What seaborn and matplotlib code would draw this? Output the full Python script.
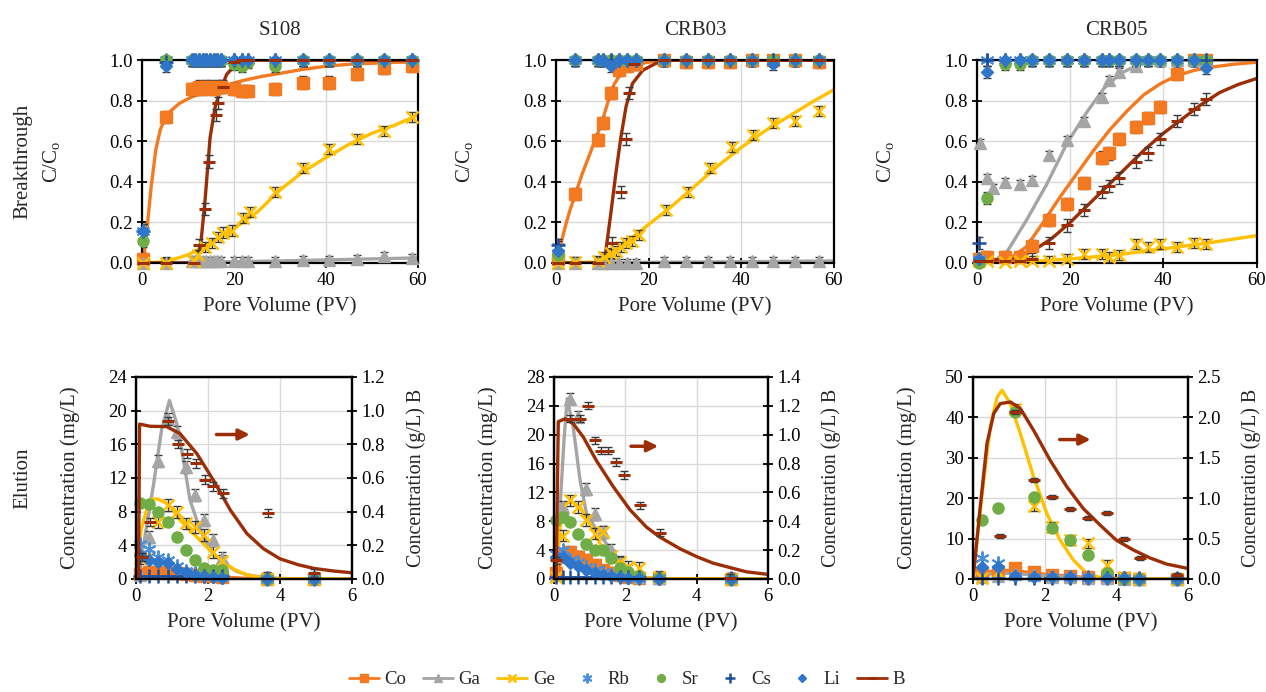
"""
Breakthrough and elution curves for S108, CRB03 and CRB05
"""

import numpy as np
import matplotlib
matplotlib.use('Agg')
import matplotlib.pyplot as plt
import seaborn as sns
from matplotlib.lines import Line2D
from matplotlib.ticker import FormatStrFormatter

# ---------------- breakthrough data (C/Co vs PV) ----------------
S108_BT_PV = [0.3, 5.2, 10.8, 11.6, 12.4, 13.2, 14.0, 14.8, 15.6, 16.4, 17.2, 19.9, 21.7, 23.1, 28.8, 34.9, 40.7, 46.7, 52.5, 58.6]
S108_BT_CO = [0.02, 0.72, 0.86, 0.86, 0.87, 0.86, 0.87, 0.87, 0.86, 0.87, 0.87, 0.86, 0.85, 0.85, 0.86, 0.89, 0.89, 0.93, 0.96, 0.97]
S108_BT_GA = [0.0, 0.0, 0.01, 0.01, 0.01, 0.01, 0.01, 0.01, 0.01, 0.01, 0.01, 0.01, 0.01, 0.01, 0.01, 0.015, 0.015, 0.02, 0.035, 0.025]
S108_BT_RB = [0.16, 1.0, 1.0, 1.0, 1.0, 1.0, 1.0, 1.0, 1.0, 1.0, 1.0, 1.0, 1.0, 1.0, 1.0, 1.0, 1.0, 1.0, 1.0, 1.0]
S108_BT_SR = [0.11, 1.0, 1.0, 1.0, 1.0, 1.0, 1.0, 1.0, 1.0, 1.0, 1.0, 0.98, 0.97, 0.99, 0.97, 1.0, 1.0, 1.0, 1.0, 1.0]
S108_BT_CS = [0.16, 0.99, 1.0, 1.0, 1.0, 1.0, 1.0, 1.0, 1.0, 1.0, 1.0, 1.0, 1.0, 1.0, 1.0, 1.0, 1.0, 1.0, 1.0, 1.0]
S108_BT_LI = [0.16, 0.97, 1.0, 1.0, 1.0, 1.0, 1.0, 1.0, 1.0, 1.0, 1.0, 1.0, 1.0, 1.0, 1.0, 1.0, 1.0, 1.0, 1.0, 1.0]
S108_BT_GE_PV = [0.3, 5.2, 11.3, 12.2, 13.7, 15.1, 16.6, 17.7, 19.5, 22.0, 23.5, 28.8, 34.9, 40.7, 46.7, 52.5, 58.6]
S108_BT_GE = [0.0, 0.0, 0.01, 0.04, 0.08, 0.10, 0.13, 0.15, 0.16, 0.22, 0.25, 0.35, 0.47, 0.56, 0.61, 0.65, 0.72]
S108_BT_B_PV = [0.3, 5.2, 11.3, 12.4, 13.7, 14.6, 16.1, 16.6, 17.5, 19.9, 21.7, 23.1, 28.8, 34.9, 40.7, 46.7, 52.5, 58.6]
S108_BT_B = [0.0, 0.0, 0.0, 0.09, 0.265, 0.5, 0.73, 0.79, 0.87, 0.99, 1.0, 1.0, 1.0, 1.0, 1.0, 1.0, 1.0, 1.0]
# model fits
S108_BT_CO_FIT_PV = [0, 0.5, 1, 2, 3, 4, 5, 6, 8, 10, 12, 15, 18, 22, 26, 30, 35, 40, 45, 50, 55, 60]
S108_BT_CO_FIT = [0, 0.05, 0.15, 0.38, 0.56, 0.66, 0.71, 0.745, 0.785, 0.81, 0.83, 0.855, 0.875, 0.9, 0.92, 0.935, 0.955, 0.97, 0.98, 0.985, 0.99, 0.99]
S108_BT_GA_FIT_PV = [0, 10, 20, 30, 40, 50, 60]
S108_BT_GA_FIT = [0, 0.003, 0.006, 0.01, 0.015, 0.02, 0.025]
S108_BT_GE_FIT_PV = [0, 5, 10, 15, 20, 25, 30, 35, 40, 45, 50, 55, 60]
S108_BT_GE_FIT = [0, 0.005, 0.04, 0.1, 0.17, 0.25, 0.36, 0.45, 0.52, 0.585, 0.64, 0.68, 0.73]
S108_BT_B_FIT_PV = [0, 11.5, 12.2, 12.8, 13.7, 14.8, 15.9, 17.0, 18.4, 20.2, 22.8, 30, 40, 50, 60]
S108_BT_B_FIT = [0, 0, 0.03, 0.1, 0.31, 0.62, 0.77, 0.85, 0.93, 0.975, 1.0, 1.0, 1.0, 1.0, 1.0]

CRB03_BT_PV = [0.4, 4.2, 9.1, 10.1, 11.8, 13.6, 15.4, 17.2, 23.4, 28.1, 32.8, 37.5, 42.2, 46.9, 51.6, 56.8]
CRB03_BT_CO = [0.02, 0.34, 0.605, 0.69, 0.84, 0.95, 0.97, 0.98, 1.0, 0.99, 0.99, 0.99, 1.0, 1.0, 1.0, 0.99]
CRB03_BT_GA = [0.0, 0.0, 0.0, 0.0, 0.0, 0.0, 0.0, 0.0, 0.01, 0.01, 0.01, 0.01, 0.01, 0.01, 0.01, 0.01]
CRB03_BT_RB = [0.08, 1.0, 1.0, 1.0, 1.0, 1.0, 1.0, 1.0, 1.0, 1.0, 1.0, 1.0, 1.0, 1.0, 1.0, 1.0]
CRB03_BT_SR = [0.04, 1.0, 1.0, 1.0, 1.0, 1.0, 1.0, 1.0, 1.0, 1.0, 1.0, 1.0, 1.0, 1.0, 1.0, 1.0]
CRB03_BT_CS = [0.09, 1.0, 1.0, 1.0, 1.0, 1.0, 1.0, 1.0, 1.0, 1.0, 1.0, 1.0, 1.0, 1.0, 1.0, 1.0]
CRB03_BT_LI = [0.06, 1.0, 1.0, 1.0, 0.97, 1.0, 1.0, 1.0, 1.0, 1.0, 1.0, 1.0, 1.0, 0.98, 1.0, 1.0]
CRB03_BT_GE_PV = [0.4, 4.2, 9.1, 10.4, 11.8, 12.9, 14.0, 15.1, 16.5, 18.0, 23.8, 28.5, 33.2, 37.9, 42.5, 46.9, 51.6, 56.8]
CRB03_BT_GE = [0.0, 0.005, 0.01, 0.03, 0.05, 0.06, 0.08, 0.10, 0.11, 0.14, 0.26, 0.35, 0.47, 0.57, 0.63, 0.69, 0.70, 0.75]
CRB03_BT_B_PV = [0.4, 4.2, 9.1, 12.0, 14.0, 15.2, 15.8, 16.9, 23.4, 28.1, 32.8, 37.5, 42.2, 46.9, 51.6, 56.8]
CRB03_BT_B = [0.0, 0.0, 0.0, 0.1, 0.35, 0.61, 0.84, 0.98, 1.0, 1.0, 1.0, 1.0, 1.0, 1.0, 1.0, 1.0]
CRB03_BT_CO_FIT_PV = [0, 1, 2, 3, 4.2, 5.5, 7, 8.5, 10, 11.4, 12.5, 13.6, 15, 16.5, 18.7, 22.3, 30, 40, 50, 60]
CRB03_BT_CO_FIT = [0, 0.09, 0.18, 0.26, 0.34, 0.43, 0.52, 0.61, 0.7, 0.81, 0.88, 0.92, 0.95, 0.97, 0.985, 1.0, 1.0, 1.0, 1.0, 1.0]
CRB03_BT_GA_FIT_PV = [0, 20, 40, 60]
CRB03_BT_GA_FIT = [0, 0.003, 0.006, 0.01]
CRB03_BT_GE_FIT_PV = [0, 10, 12, 15, 20, 25, 30, 35, 40, 45, 50, 55, 60]
CRB03_BT_GE_FIT = [0, 0.005, 0.04, 0.1, 0.19, 0.28, 0.38, 0.48, 0.57, 0.65, 0.72, 0.79, 0.855]
CRB03_BT_B_FIT_PV = [0, 10, 10.7, 11.8, 12.9, 14.0, 15.1, 16.5, 18.7, 21.6, 25.2, 30, 40, 50, 60]
CRB03_BT_B_FIT = [0, 0, 0.05, 0.24, 0.44, 0.62, 0.77, 0.885, 0.95, 0.985, 1.0, 1.0, 1.0, 1.0, 1.0]

CRB05_BT_PV = [0.5, 2.2, 6.0, 9.2, 11.9, 15.5, 19.3, 23.0, 26.8, 28.3, 30.4, 34.0, 36.7, 39.3, 42.9, 46.6, 49.1]
CRB05_BT_CO = [0.02, 0.03, 0.03, 0.03, 0.085, 0.21, 0.29, 0.395, 0.52, 0.54, 0.61, 0.67, 0.715, 0.77, 0.93, 1.0, 1.0]
CRB05_BT_RB = [0.02, 1.0, 1.0, 1.0, 1.0, 1.0, 1.0, 1.0, 1.0, 1.0, 1.0, 1.0, 1.0, 1.0, 1.0, 1.0, 1.0]
CRB05_BT_SR = [0.0, 0.32, 0.98, 0.98, 1.0, 1.0, 1.0, 1.0, 1.0, 1.0, 1.0, 1.0, 1.0, 1.0, 1.0, 1.0, 1.0]
CRB05_BT_CS = [0.10, 1.0, 1.0, 1.0, 1.0, 1.0, 1.0, 1.0, 1.0, 1.0, 1.0, 1.0, 1.0, 1.0, 1.0, 1.0, 1.0]
CRB05_BT_LI = [0.02, 0.94, 1.0, 1.0, 1.0, 1.0, 1.0, 1.0, 1.0, 1.0, 1.0, 1.0, 1.0, 1.0, 1.0, 1.0, 0.96]
CRB05_BT_GE = [0.01, 0.01, 0.005, 0.01, 0.01, 0.01, 0.02, 0.045, 0.045, 0.03, 0.04, 0.095, 0.08, 0.095, 0.08, 0.10, 0.095]
CRB05_BT_B = [0.01, 0.01, 0.01, 0.01, 0.02, 0.10, 0.185, 0.26, 0.35, 0.38, 0.42, 0.50, 0.54, 0.61, 0.70, 0.76, 0.81]
CRB05_BT_GA_PV = [0.7, 2.2, 3.5, 6.0, 9.2, 11.9, 15.5, 19.3, 23.0, 26.8, 28.3, 30.4, 34.0, 39.3, 42.9, 46.6, 49.1]
CRB05_BT_GA = [0.59, 0.42, 0.37, 0.40, 0.39, 0.41, 0.53, 0.605, 0.70, 0.82, 0.90, 0.94, 0.97, 1.0, 1.0, 1.0, 1.0]
CRB05_BT_CO_FIT_PV = [0, 7, 10.6, 14.2, 17.8, 21.4, 25, 28.6, 32.2, 35.8, 39.4, 43, 46.6, 50, 55, 60]
CRB05_BT_CO_FIT = [0.01, 0.02, 0.08, 0.2, 0.325, 0.44, 0.555, 0.66, 0.75, 0.83, 0.885, 0.925, 0.95, 0.965, 0.98, 0.99]
CRB05_BT_GA_FIT_PV = [0, 3.5, 6.3, 10.6, 15, 19.3, 23.6, 27.2, 30.8, 34.4, 39.4, 45, 50, 60]
CRB05_BT_GA_FIT = [0.01, 0.01, 0.05, 0.21, 0.39, 0.59, 0.745, 0.86, 0.935, 0.975, 1.0, 1.0, 1.0, 1.0]
CRB05_BT_GE_FIT_PV = [0, 10, 20, 30, 40, 50, 60]
CRB05_BT_GE_FIT = [0, 0.005, 0.02, 0.04, 0.07, 0.1, 0.135]
CRB05_BT_B_FIT_PV = [0, 8, 12, 16, 20, 24, 28, 32, 36, 40, 44, 48, 52, 56, 60]
CRB05_BT_B_FIT = [0.01, 0.02, 0.06, 0.12, 0.2, 0.29, 0.38, 0.47, 0.56, 0.64, 0.71, 0.78, 0.84, 0.88, 0.91]

# ---------------- elution data (mg/L, B in g/L) ----------------
S108_EL_PV = [0.1, 0.35, 0.62, 0.9, 1.13, 1.4, 1.65, 1.9, 2.15, 2.4, 3.65, 4.95]
S108_EL_CO = [0.6, 0.8, 0.8, 0.7, 0.7, 0.6, 0.5, 0.4, 0.3, 0.2, 0.0, 0.0]
S108_EL_GA = [0.5, 5.0, 14.0, 19.0, 17.5, 13.3, 10.0, 7.0, 4.6, 2.5, 0.1, 0.1]
S108_EL_GE = [2.5, 2.6, 6.8, 8.8, 8.0, 6.6, 6.2, 5.2, 3.2, 2.1, 0.0, 0.0]
S108_EL_RB = [4.2, 3.6, 2.6, 2.3, 1.5, 0.9, 0.7, 0.4, 0.3, 0.2, 0.0, 0.0]
S108_EL_SR = [9.0, 8.9, 8.0, 6.8, 5.0, 3.4, 2.3, 1.3, 1.1, 1.1, 0.0, 0.0]
S108_EL_CS = [0.3, 0.3, 0.3, 0.3, 0.3, 0.3, 0.3, 0.3, 0.3, 0.3, 0.1, 0.1]
S108_EL_LI = [2.8, 2.3, 2.0, 1.9, 1.2, 0.8, 0.5, 0.3, 0.2, 0.1, 0.0, 0.0]
S108_EL_B_PV = [0.16, 0.39, 0.9, 1.18, 1.41, 1.67, 1.92, 2.15, 2.41, 3.68, 4.94]
S108_EL_B = [0.13, 0.34, 0.94, 0.80, 0.745, 0.686, 0.59, 0.55, 0.508, 0.393, 0.034]
S108_EL_CO_FIT_PV = [0, 0.08, 0.5, 1.0, 1.5, 2.0, 2.5, 3.0, 4.0, 6.0]
S108_EL_CO_FIT = [0, 0.7, 0.7, 0.6, 0.5, 0.35, 0.2, 0.1, 0.02, 0]
S108_EL_GA_FIT_PV = [0, 0.07, 0.2, 0.48, 0.71, 0.93, 1.13, 1.32, 1.5, 1.75, 1.97, 2.2, 2.43, 2.8, 3.08, 3.5, 4, 6]
S108_EL_GA_FIT = [0, 0, 3.8, 11, 17.7, 21.2, 18.5, 14.1, 9.4, 6.2, 4.2, 2.8, 1.9, 0.9, 0.5, 0.2, 0.05, 0]
S108_EL_GE_FIT_PV = [0, 0.05, 0.15, 0.3, 0.44, 0.6, 0.85, 1.05, 1.22, 1.45, 1.69, 1.92, 2.15, 2.43, 2.75, 3.08, 3.5, 4, 6]
S108_EL_GE_FIT = [0, 3, 6, 8.2, 9.5, 9.5, 9.0, 8.1, 7.0, 6.0, 5.0, 4.0, 3.0, 2.0, 1.1, 0.5, 0.15, 0.05, 0]
S108_EL_B_FIT_PV = [0, 0.07, 0.10, 0.39, 0.85, 1.22, 1.69, 2.15, 2.62, 3.08, 3.54, 4.0, 4.5, 4.94, 5.5, 6.0]
S108_EL_B_FIT = [0, 0, 0.92, 0.907, 0.905, 0.864, 0.745, 0.587, 0.41, 0.27, 0.18, 0.12, 0.085, 0.063, 0.047, 0.037]

CRB03_EL_PV = [0.07, 0.26, 0.45, 0.68, 0.91, 1.15, 1.38, 1.61, 1.85, 2.08, 2.38, 2.95, 4.95]
CRB03_EL_CO = [0.8, 3.5, 3.8, 3.1, 2.6, 1.9, 1.2, 0.8, 0.5, 0.3, 0.2, 0.1, 0.0]
CRB03_EL_GA = [0.5, 10.0, 25.0, 22.5, 12.5, 9.0, 6.5, 4.0, 2.2, 1.2, 0.3, 0.1, 0.1]
CRB03_EL_GE = [0.3, 6.0, 10.9, 10.0, 8.2, 6.3, 6.5, 3.2, 2.4, 1.7, 1.5, 0.3, 0.0]
CRB03_EL_RB = [3.5, 4.0, 2.6, 2.3, 1.7, 1.2, 1.0, 0.55, 0.4, 0.3, 0.2, 0.1, 0.0]
CRB03_EL_SR = [8.2, 8.6, 7.9, 6.3, 4.9, 4.0, 4.0, 2.9, 1.5, 1.0, 0.4, 0.1, 0.0]
CRB03_EL_CS = [0.3, 0.3, 0.3, 0.3, 0.3, 0.3, 0.3, 0.3, 0.3, 0.3, 0.3, 0.1, 0.1]
CRB03_EL_LI = [3.1, 3.0, 2.2, 1.8, 1.3, 0.9, 0.6, 0.4, 0.3, 0.2, 0.1, 0.0, 0.0]
CRB03_EL_B_PV = [0.07, 0.45, 0.73, 0.96, 1.15, 1.33, 1.52, 1.75, 1.97, 2.41, 2.97, 4.93]
CRB03_EL_B = [0.13, 1.11, 1.11, 1.2, 0.96, 0.89, 0.89, 0.81, 0.72, 0.51, 0.32, 0.01]
CRB03_EL_CO_FIT_PV = [0, 0.06, 0.3, 0.7, 1.1, 1.5, 2.0, 2.5, 3.0, 6.0]
CRB03_EL_CO_FIT = [0, 1.0, 3.2, 3.0, 2.2, 1.3, 0.6, 0.2, 0.05, 0]
CRB03_EL_GA_FIT_PV = [0, 0.06, 0.17, 0.28, 0.37, 0.54, 0.73, 0.91, 1.19, 1.47, 1.75, 2.03, 2.4, 3.0, 6.0]
CRB03_EL_GA_FIT = [0, 0, 10, 19.2, 25, 21, 13.7, 9.1, 6.8, 4.9, 3.1, 1.2, 0.2, 0, 0]
CRB03_EL_GE_FIT_PV = [0, 0.06, 0.17, 0.31, 0.49, 0.73, 1.0, 1.29, 1.57, 1.85, 2.22, 2.6, 3.0, 6.0]
CRB03_EL_GE_FIT = [0, 0, 7.2, 10.5, 10.7, 10.0, 7.7, 4.9, 3.1, 1.7, 0.55, 0.15, 0.05, 0]
CRB03_EL_B_FIT_PV = [0, 0.06, 0.12, 0.31, 0.54, 0.82, 1.19, 1.66, 2.13, 2.59, 2.97, 3.53, 4.0, 4.46, 5.0, 5.39, 6.0]
CRB03_EL_B_FIT = [0, 0, 1.09, 1.11, 1.076, 0.984, 0.82, 0.64, 0.48, 0.36, 0.29, 0.21, 0.155, 0.11, 0.075, 0.05, 0.032]

CRB05_EL_PV = [0.25, 0.71, 1.18, 1.69, 2.2, 2.71, 3.2, 3.73, 4.2, 4.63, 5.68]
CRB05_EL_CO = [1.4, 1.8, 2.6, 1.8, 1.0, 0.8, 0.6, 0.4, 0.2, 0.1, 0.1]
CRB05_EL_GA = [0.5, 0.8, 1.2, 1.0, 0.6, 0.4, 0.3, 0.2, 0.1, 0.0, 0.0]
CRB05_EL_GE = [0.2, 1.8, 42.0, 18.0, 12.9, 9.6, 8.8, 3.5, 0.4, 0.0, 0.0]
CRB05_EL_RB = [5.1, 3.9, 0.8, 0.6, 0.5, 0.5, 0.5, 0.4, 0.2, 0.1, 0.1]
CRB05_EL_SR = [14.6, 17.5, 41.3, 20.3, 12.7, 9.6, 5.9, 1.4, 0.0, 0.0, 0.0]
CRB05_EL_CS = [0.3, 0.3, 0.3, 0.3, 0.3, 0.3, 0.3, 0.3, 0.3, 0.3, 0.3]
CRB05_EL_LI = [3.0, 3.0, 0.8, 0.6, 0.5, 0.4, 0.3, 0.3, 0.2, 0.1, 0.1]
CRB05_EL_B_PV = [0.76, 1.18, 1.69, 2.2, 2.71, 3.2, 3.73, 4.22, 4.66, 5.68]
CRB05_EL_B = [0.53, 2.07, 1.23, 1.02, 0.87, 0.75, 0.82, 0.49, 0.255, 0.05]
CRB05_EL_CO_FIT_PV = [0, 0.3, 0.7, 1.2, 2.0, 3.0, 4.0, 6.0]
CRB05_EL_CO_FIT = [0, 1.5, 2.2, 2.0, 1.2, 0.5, 0.1, 0]
CRB05_EL_GA_FIT_PV = [0, 0.3, 0.7, 1.2, 2.0, 3.0, 4.0, 6.0]
CRB05_EL_GA_FIT = [0, 1.0, 1.5, 1.3, 0.8, 0.3, 0.1, 0]
CRB05_EL_GE_FIT_PV = [0, 0.11, 0.3, 0.48, 0.67, 0.81, 1.04, 1.32, 1.69, 2.06, 2.43, 2.8, 3.17, 3.54, 4.0, 6.0]
CRB05_EL_GE_FIT = [0, 9.6, 24.5, 37.6, 45, 46.7, 43.4, 36, 25.3, 16.2, 9.6, 4.7, 1.4, 0.4, 0.05, 0]
CRB05_EL_B_FIT_PV = [0, 0.2, 0.39, 0.58, 0.76, 1.04, 1.32, 1.69, 2.15, 2.62, 3.08, 3.54, 4.0, 4.47, 4.94, 5.4, 6.0]
CRB05_EL_B_FIT = [0, 0.89, 1.68, 2.05, 2.17, 2.19, 2.11, 1.84, 1.47, 1.14, 0.87, 0.67, 0.48, 0.36, 0.26, 0.185, 0.13]

# ---------------- styles ----------------
COLORS = {'Co': '#F47A22', 'Ga': '#A5A5A5', 'Ge': '#FFC000', 'Rb': '#4A8FDB',
          'Sr': '#70AD47', 'Cs': '#1F4E9A', 'Li': '#2F75C9', 'B': '#9C2E06'}
MARKERS = {'Co': ('s', 8, 1), 'Ga': ('^', 8, 1), 'Ge': ('x', 9, 1.8), 'Rb': ((6, 2, 0), 10, 1.4),
           'Sr': ('o', 8, 1), 'Cs': ('+', 10, 1.8), 'Li': ('D', 6.5, 1), 'B': ('_', 8, 2.2)}
ERR_COLOR = '#3a3a3a'
FONT = 15

sns.set_theme(style='whitegrid')
plt.rcParams['font.family'] = ['Liberation Serif', 'DejaVu Serif']
plt.rcParams['mathtext.fontset'] = 'custom'
plt.rcParams['mathtext.rm'] = 'Liberation Serif'
plt.rcParams['mathtext.it'] = 'Liberation Serif:italic'


def black_frame(ax):
    for spine in ax.spines.values():
        spine.set_color('black')
        spine.set_linewidth(1.6)


def style_axes(ax, xmax, xstep, ymax, ystep, fmt):
    ax.set_facecolor('white')
    ax.set_xlim(0, xmax)
    ax.set_ylim(0, ymax)
    ax.set_xticks(np.arange(0, xmax + 1e-9, xstep))
    ax.set_yticks(np.arange(0, ymax + 1e-9, ystep))
    ax.xaxis.set_major_formatter(FormatStrFormatter('%d'))
    ax.yaxis.set_major_formatter(FormatStrFormatter(fmt))
    ax.grid(True, color='#D9D9D9', linewidth=1)
    black_frame(ax)
    ax.tick_params(direction='inout', length=7, width=1.3, colors='black',
                   labelsize=13.5, left=True, bottom=True, pad=3)
    ax.set_xlabel('Pore Volume (PV)', fontsize=FONT)
    ax.xaxis.set_label_coords(0.5, -0.17)


def fit_line(ax, x, y, key):
    sns.lineplot(x=x, y=y, ax=ax, color=COLORS[key], linewidth=2.4,
                 estimator=None, sort=False, zorder=2)


def points(ax, x, y, key, err):
    marker, ms, mew = MARKERS[key]
    if err:
        ax.errorbar(x, y, yerr=err, fmt='none', ecolor=ERR_COLOR, elinewidth=1,
                    capsize=3, capthick=1, zorder=3)
    ax.plot(x, y, ls='none', marker=marker, ms=ms, mew=mew, color=COLORS[key],
            clip_on=False, zorder=4)


def breakthrough(ax, title, pv, co, ga_pv, ga, ge_pv, ge, rb, sr, cs, li, b_pv, b, fits):
    style_axes(ax, 60, 20, 1.0, 0.2, '%.1f')
    for key, (fx, fy) in fits.items():
        fit_line(ax, fx, fy, key)
    points(ax, pv, co, 'Co', 0.03)
    points(ax, ga_pv, ga, 'Ga', 0.02)
    points(ax, ge_pv, ge, 'Ge', 0.025)
    points(ax, pv, rb, 'Rb', 0.03)
    points(ax, pv, sr, 'Sr', 0.03)
    points(ax, pv, cs, 'Cs', 0.03)
    points(ax, pv, li, 'Li', 0.03)
    points(ax, b_pv, b, 'B', 0.03)
    ax.set_title(title, fontsize=FONT, pad=18)
    ax.set_ylabel('C/C$_\\mathrm{o}$', fontsize=FONT)
    ax.yaxis.set_label_coords(-0.29, 0.5)


def elution(ax, ymax, ystep, pv, co, ga, ge, rb, sr, cs, li, b_pv, b, fits, b_fit, err, arrow):
    style_axes(ax, 6, 2, ymax, ystep, '%d')
    for key, (fx, fy) in fits.items():
        fit_line(ax, fx, fy, key)
    points(ax, pv, co, 'Co', err)
    points(ax, pv, ga, 'Ga', err)
    points(ax, pv, ge, 'Ge', err)
    points(ax, pv, rb, 'Rb', 0)
    points(ax, pv, sr, 'Sr', 0)
    points(ax, pv, cs, 'Cs', 0)
    points(ax, pv, li, 'Li', 0)
    ax.set_ylabel('Concentration (mg/L)', fontsize=FONT)
    ax.yaxis.set_label_coords(-0.26, 0.5)

    ax2 = ax.twinx()
    ax2.set_ylim(0, ymax / 20)
    ax2.set_yticks(np.arange(0, ymax / 20 + 1e-9, ystep / 20))
    ax2.yaxis.set_major_formatter(FormatStrFormatter('%.1f'))
    ax2.grid(False)
    black_frame(ax2)
    ax2.tick_params(direction='inout', length=7, width=1.3, colors='black',
                    labelsize=13.5, right=True, pad=3)
    fit_line(ax2, b_fit[0], b_fit[1], 'B')
    points(ax2, b_pv, b, 'B', 0.025)
    ax2.set_ylabel('Concentration (g/L) B', fontsize=14.5)
    ax2.yaxis.set_label_coords(1.25, 0.5)
    ax.annotate('', xy=(arrow[1], arrow[2]), xytext=(arrow[0], arrow[2]),
                xycoords='axes fraction',
                arrowprops=dict(arrowstyle='-|>', color=COLORS['B'], lw=2.5, mutation_scale=16))


fig = plt.figure(figsize=(12.66, 6.92), dpi=100)
fig.patch.set_facecolor('white')

top_axes = [fig.add_axes([0.1122, 0.620, 0.218, 0.293]),
            fig.add_axes([0.4392, 0.620, 0.2196, 0.293]),
            fig.add_axes([0.7717, 0.620, 0.221, 0.293])]
bot_axes = [fig.add_axes([0.1074, 0.1633, 0.1706, 0.292]),
            fig.add_axes([0.4376, 0.1633, 0.169, 0.292]),
            fig.add_axes([0.7686, 0.1633, 0.1698, 0.292])]

breakthrough(top_axes[0], 'S108', S108_BT_PV, S108_BT_CO, S108_BT_PV, S108_BT_GA,
             S108_BT_GE_PV, S108_BT_GE, S108_BT_RB, S108_BT_SR, S108_BT_CS, S108_BT_LI,
             S108_BT_B_PV, S108_BT_B,
             {'Ga': (S108_BT_GA_FIT_PV, S108_BT_GA_FIT), 'Ge': (S108_BT_GE_FIT_PV, S108_BT_GE_FIT),
              'Co': (S108_BT_CO_FIT_PV, S108_BT_CO_FIT), 'B': (S108_BT_B_FIT_PV, S108_BT_B_FIT)})
breakthrough(top_axes[1], 'CRB03', CRB03_BT_PV, CRB03_BT_CO, CRB03_BT_PV, CRB03_BT_GA,
             CRB03_BT_GE_PV, CRB03_BT_GE, CRB03_BT_RB, CRB03_BT_SR, CRB03_BT_CS, CRB03_BT_LI,
             CRB03_BT_B_PV, CRB03_BT_B,
             {'Ga': (CRB03_BT_GA_FIT_PV, CRB03_BT_GA_FIT), 'Ge': (CRB03_BT_GE_FIT_PV, CRB03_BT_GE_FIT),
              'Co': (CRB03_BT_CO_FIT_PV, CRB03_BT_CO_FIT), 'B': (CRB03_BT_B_FIT_PV, CRB03_BT_B_FIT)})
breakthrough(top_axes[2], 'CRB05', CRB05_BT_PV, CRB05_BT_CO, CRB05_BT_GA_PV, CRB05_BT_GA,
             CRB05_BT_PV, CRB05_BT_GE, CRB05_BT_RB, CRB05_BT_SR, CRB05_BT_CS, CRB05_BT_LI,
             CRB05_BT_PV, CRB05_BT_B,
             {'Ga': (CRB05_BT_GA_FIT_PV, CRB05_BT_GA_FIT), 'Ge': (CRB05_BT_GE_FIT_PV, CRB05_BT_GE_FIT),
              'Co': (CRB05_BT_CO_FIT_PV, CRB05_BT_CO_FIT), 'B': (CRB05_BT_B_FIT_PV, CRB05_BT_B_FIT)})

elution(bot_axes[0], 24, 4, S108_EL_PV, S108_EL_CO, S108_EL_GA, S108_EL_GE, S108_EL_RB,
        S108_EL_SR, S108_EL_CS, S108_EL_LI, S108_EL_B_PV, S108_EL_B,
        {'Co': (S108_EL_CO_FIT_PV, S108_EL_CO_FIT), 'Ga': (S108_EL_GA_FIT_PV, S108_EL_GA_FIT),
         'Ge': (S108_EL_GE_FIT_PV, S108_EL_GE_FIT)},
        (S108_EL_B_FIT_PV, S108_EL_B_FIT), 0.7, (0.36, 0.54, 0.715))
elution(bot_axes[1], 28, 4, CRB03_EL_PV, CRB03_EL_CO, CRB03_EL_GA, CRB03_EL_GE, CRB03_EL_RB,
        CRB03_EL_SR, CRB03_EL_CS, CRB03_EL_LI, CRB03_EL_B_PV, CRB03_EL_B,
        {'Co': (CRB03_EL_CO_FIT_PV, CRB03_EL_CO_FIT), 'Ga': (CRB03_EL_GA_FIT_PV, CRB03_EL_GA_FIT),
         'Ge': (CRB03_EL_GE_FIT_PV, CRB03_EL_GE_FIT)},
        (CRB03_EL_B_FIT_PV, CRB03_EL_B_FIT), 0.8, (0.347, 0.50, 0.657))
elution(bot_axes[2], 50, 10, CRB05_EL_PV, CRB05_EL_CO, CRB05_EL_GA, CRB05_EL_GE, CRB05_EL_RB,
        CRB05_EL_SR, CRB05_EL_CS, CRB05_EL_LI, CRB05_EL_B_PV, CRB05_EL_B,
        {'Co': (CRB05_EL_CO_FIT_PV, CRB05_EL_CO_FIT), 'Ga': (CRB05_EL_GA_FIT_PV, CRB05_EL_GA_FIT),
         'Ge': (CRB05_EL_GE_FIT_PV, CRB05_EL_GE_FIT)},
        (CRB05_EL_B_FIT_PV, CRB05_EL_B_FIT), 1.2, (0.39, 0.56, 0.69))

# row labels
fig.text(0.018, 0.767, 'Breakthrough', rotation=90, ha='center', va='center', fontsize=FONT)
fig.text(0.018, 0.309, 'Elution', rotation=90, ha='center', va='center', fontsize=FONT)

# shared legend
handles = []
for key in ['Co', 'Ga', 'Ge', 'Rb', 'Sr', 'Cs', 'Li', 'B']:
    marker, ms, mew = MARKERS[key]
    ls = '-' if key in ('Co', 'Ga', 'Ge', 'B') else 'none'
    handles.append(Line2D([], [], color=COLORS[key], ls=ls, lw=2.0, marker=marker,
                          ms=ms * 0.7, mew=mew, label=key))
fig.legend(handles=handles, loc='center', bbox_to_anchor=(0.495, 0.018), ncol=8,
           frameon=False, fontsize=13.5, handlelength=1.6, columnspacing=0.9,
           handletextpad=0.3, borderaxespad=0)

fig.savefig('out.png', dpi=100, facecolor='white')
plt.close(fig)
